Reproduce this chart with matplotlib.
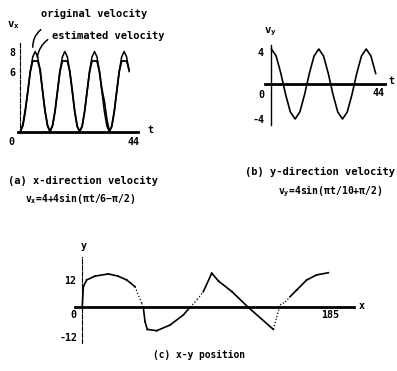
import matplotlib
matplotlib.use("Agg")
import matplotlib.pyplot as plt

plt.rcParams["font.family"] = "DejaVu Sans Mono"
plt.rcParams["font.weight"] = "bold"
plt.rcParams["mathtext.fontset"] = "custom"
plt.rcParams["mathtext.rm"] = "DejaVu Sans Mono:bold"
plt.rcParams["mathtext.it"] = "DejaVu Sans Mono:bold"

# (a) x-direction velocity
t_a = list(range(0, 45))
vx_original = [0, 0.54, 2, 4, 6, 7.46, 8, 7.46, 6, 4, 2, 0.54,
               0, 0.54, 2, 4, 6, 7.46, 8, 7.46, 6, 4, 2, 0.54,
               0, 0.54, 2, 4, 6, 7.46, 8, 7.46, 6, 4, 2, 0.54,
               0, 0.54, 2, 4, 6, 7.46, 8, 7.46, 6]
vx_estimated = [0, 0.7, 2.2, 4, 6, 7.05, 7.05, 7.05, 6.2, 4, 2, 0.6,
                0, 0.6, 2, 4, 6, 7.05, 7.05, 7.05, 6, 4.1, 2, 0.5,
                0, 0.5, 2, 4, 6, 7.05, 7.05, 7.05, 6, 4.2, 3.0, 1.2,
                0, 0.5, 2, 4, 6, 7.05, 7.05, 7.05, 6.2]

# (b) y-direction velocity
t_b = list(range(0, 46, 2))[:23]
vy = [4, 3.2, 1.2, -1.2, -3.2, -4, -3.2, -1.2, 1.2, 3.2, 4,
      3.2, 1.2, -1.2, -3.2, -4, -3.2, -1.2, 1.2, 3.2, 4, 3.2, 1.2]

# (c) x-y position
pos_x = [0, 0.4, 1.2, 3.7, 9.9, 19.8, 27, 33.5, 39.7, 44.7, 45.9, 47.2, 48.9,
         55.9, 65.8, 75.7, 80.7, 86, 90.6, 96.9, 102, 112, 124.1, 142.8,
         145.3, 147.8, 151.7, 155.2, 160.2, 167.7, 175.1, 183.8]
pos_y = [0, 0, 8.6, 11.4, 13.0, 13.9, 13.0, 11.4, 8.6, 1.7, 0, -6, -9.2,
         -9.75, -7.4, -3.2, 0, 3.2, 6.5, 14.2, 10.9, 6.5, 0, -9.2,
         -4.1, 1.0, 2.2, 4.4, 7.2, 11.4, 13.5, 14.4]
faint_ranges = [(40.5, 46), (80.7, 93), (142.8, 156)]

W, H = 397, 371
fig = plt.figure(figsize=(W / 100, H / 100), dpi=100)


def make_axes(ox, sx, oy, sy, xlim, ylim, xbounds, ybounds, ydash=False):
    left = ox + sx * xlim[0]
    right = ox + sx * xlim[1]
    top = oy - sy * ylim[1]
    bottom = oy - sy * ylim[0]
    ax = fig.add_axes([left / W, 1 - bottom / H, (right - left) / W, (bottom - top) / H])
    ax.set_xlim(xlim)
    ax.set_ylim(ylim)
    ax.patch.set_visible(False)
    for s in ["top", "right"]:
        ax.spines[s].set_visible(False)
    ax.spines["bottom"].set_position(("data", 0))
    ax.spines["left"].set_position(("data", 0))
    ax.spines["bottom"].set_bounds(*xbounds)
    ax.spines["left"].set_bounds(*ybounds)
    ax.spines["bottom"].set_linewidth(2.0)
    ax.spines["left"].set_linewidth(0.8)
    if ydash:
        ax.spines["left"].set_linestyle((0, (4, 1.5)))
    ax.set_xticks([])
    ax.set_yticks([])
    return ax


fs = 7.2

# ---- (a)
ax_a = make_axes(20.4, 2.47, 131.5, 10, (-4, 56), (-1.5, 9.5), (-1, 47.6), (-0.15, 9), ydash=True)
ax_a.plot(t_a, vx_original, color="black", lw=1.1)
ax_a.plot(t_a, vx_estimated, color="black", lw=1.3)
ax_a.text(-3.4, 7.8, "8", fontsize=fs, ha="center", va="center")
ax_a.text(-3.4, 5.8, "6", fontsize=fs, ha="center", va="center")
ax_a.text(-3.5, -1.0, "0", fontsize=fs, ha="center", va="center")
ax_a.text(45.7, -1.0, "44", fontsize=fs, ha="center", va="center")
ax_a.text(52.5, 0.15, "t", fontsize=fs, ha="center", va="center")
ax_a.text(-2.9, 10.6, r"$\mathrm{v_x}$", fontsize=fs + 0.5, ha="center", va="center", clip_on=False)
ax_a.text(29.8, 11.8, "original velocity", fontsize=fs + 0.3, ha="center", va="center", clip_on=False)
ax_a.text(35.7, 9.55, "estimated velocity", fontsize=fs + 0.3, ha="center", va="center", clip_on=False)
ax_a.annotate("", xy=(5.1, 8.15), xytext=(9.15, 10.35),
              arrowprops=dict(arrowstyle="-", connectionstyle="arc3,rad=0.3", lw=1.1, color="black"))
ax_a.annotate("", xy=(6.7, 7.15), xytext=(12.0, 9.35),
              arrowprops=dict(arrowstyle="-", connectionstyle="arc3,rad=0.25", lw=1.1, color="black"))

# ---- (b)
ax_b = make_axes(271.4, 2.37, 84, 8.75, (-8, 52), (-6, 7), (-2.7, 47.9), (-4.69, 4.46))
ax_b.spines["left"].set_linewidth(1.0)
ax_b.plot(t_b, vy, color="black", lw=1.2)
ax_b.text(-4.4, 3.6, "4", fontsize=fs, ha="center", va="center")
ax_b.text(-4.4, -1.26, "0", fontsize=fs, ha="center", va="center")
ax_b.text(-5.5, -4.1, "-4", fontsize=fs, ha="center", va="center")
ax_b.text(45.1, -1.0, "44", fontsize=fs, ha="center", va="center")
ax_b.text(50.5, 0.3, "t", fontsize=fs, ha="center", va="center")
ax_b.text(-0.6, 6.0, r"$\mathrm{v_y}$", fontsize=fs + 0.5, ha="center", va="center")

# ---- (c)
ax_c = make_axes(81.7, 1.342, 307.3, 2.4, (-25, 215), (-20, 22), (-5, 203), (-14.7, 21), ydash=True)
for i in range(len(pos_x) - 1):
    mid = (pos_x[i] + pos_x[i + 1]) / 2
    faint = any(a <= mid <= b for a, b in faint_ranges)
    ax_c.plot(pos_x[i:i + 2], pos_y[i:i + 2], color="black",
              lw=0.9 if faint else 1.2, ls=":" if faint else "-")
ax_c.text(-8.7, 11.0, "12", fontsize=fs, ha="center", va="center")
ax_c.text(-6.5, -3.2, "0", fontsize=fs, ha="center", va="center")
ax_c.text(-10.2, -12.8, "-12", fontsize=fs, ha="center", va="center")
ax_c.text(185, -3.2, "185", fontsize=fs, ha="center", va="center")
ax_c.text(208.9, 0.5, "x", fontsize=fs, ha="center", va="center")
ax_c.text(1.7, 25.5, "y", fontsize=fs, ha="center", va="center", clip_on=False)


def ftext(x, y, s, size, ha="left"):
    fig.text(x / W, 1 - y / H, s, fontsize=size, ha=ha, va="center")


ftext(8, 181, "(a) x-direction velocity", 7.5)
ftext(25, 199, r"$\mathrm{v_x}$=4+4sin(πt/6−π/2)", 7.0)
ftext(245, 172, "(b) y-direction velocity", 7.5)
ftext(278, 191, r"$\mathrm{v_y}$=4sin(πt/10+π/2)", 7.0)
ftext(153, 355, "(c) x-y position", 6.9)

fig.savefig("out.png", dpi=100)
